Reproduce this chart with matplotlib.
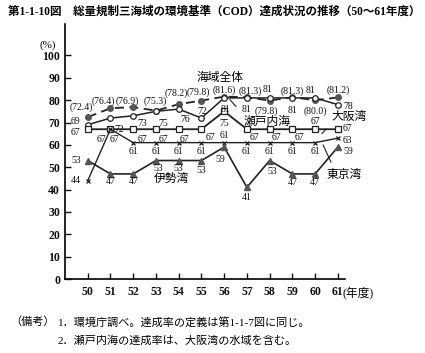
import matplotlib
matplotlib.use("Agg")
import matplotlib.pyplot as plt

plt.rcParams['font.family'] = ['Liberation Serif', 'Noto Sans CJK JP']

years = [50, 51, 52, 53, 54, 55, 56, 57, 58, 59, 60, 61]
zentai = [72.4, 76.4, 76.9, 75.3, 78.2, 79.8, 81.6, 81.3, 79.8, 81.3, 80.0, 81.2]
seto = [69, 72, 73, 75, 76, 72, 81, 81, 81, 81, 81, 78]
osaka = [67, 67, 67, 67, 67, 67, 75, 67, 67, 67, 67, 67]
tokyo = [44, 67, 61, 61, 61, 61, 61, 61, 61, 61, 61, 63]
ise = [53, 47, 47, 53, 53, 53, 59, 41, 53, 47, 47, 59]

# label offsets (pixels, y up) for each point
off_zentai = [(-6, 10), (-7, 7), (-6, 6), (-1, 9), (-2, 11), (-3, 8),
              (0, 6), (3, 6), (-3, -11), (0, 6), (0, -11), (0, 7)]
off_seto = [(-12, 3), (9, -11), (9, -8), (7, -12), (6, -10), (1, 7),
            (1, -12), (0, -12), (-2, 8), (0, -13), (-5, 7), (10, -2)]
off_osaka = [(-12, -3), (-9, -10), (9, -10), (7, -10), (6, -10), (9, -8),
             (0, -12), (8, -8), (7, -8), (7, -8), (0, 8), (10, 1)]
off_tokyo = [(-12, 0), (4, -10), (0, -9), (0, -9), (0, -9), (0, -9),
             (0, 7), (0, -9), (0, -9), (0, -9), (0, -9), (10, -2)]
off_ise = [(-12, 0), (0, -8), (0, -8), (2, -8), (0, -8), (0, -10),
           (-4, -12), (0, -10), (3, -11), (0, -9), (0, -9), (10, -4)]

fig = plt.figure(figsize=(4.25, 3.53), dpi=100)
ax = fig.add_axes([0.153, 0.2096, 0.659, 0.722])

c = '#222222'
ax.plot(years, zentai, '--', color=c, lw=1.3, dashes=(5, 3), marker='o', ms=4,
        mfc='#555555', mec='#555555')
ax.plot(years, seto, '-', color=c, lw=1.1, marker='o', ms=4, mfc='white', mec=c, mew=0.9)
ax.plot(years, osaka, '-', color=c, lw=1.3, marker='s', ms=4, mfc='white', mec=c, mew=0.9)
ax.plot(years, tokyo, '-', color=c, lw=1.0, marker='x', ms=3.5, mec=c, mew=0.9)
ax.plot(years, ise, '-', color=c, lw=1.2, marker='^', ms=4, mfc='#555555', mec='#555555')

def put_labels(vals, offs, fmt):
    for x, v, (dx, dy) in zip(years, vals, offs):
        ax.annotate(fmt(v), (x, v), xytext=(dx, dy), textcoords='offset pixels',
                    ha='center', va='center', fontsize=7, color='#111111')

put_labels(zentai, off_zentai, lambda v: '(%.1f)' % v)
put_labels(seto, off_seto, lambda v: '%d' % v)
put_labels(osaka, off_osaka, lambda v: '%d' % v)
put_labels(tokyo, off_tokyo, lambda v: '%d' % v)
put_labels(ise, off_ise, lambda v: '%d' % v)

# series names
ax.text(55.8, 89.7, '海域全体', ha='center', va='center', fontsize=8.5)
ax.text(53.7, 44.8, '伊勢湾', ha='center', va='center', fontsize=8.5)
ax.annotate('瀬戸内海', xy=(56.25, 80.3), xytext=(57.9, 70.4), ha='center', va='center',
            fontsize=8.5, arrowprops=dict(arrowstyle='-', color=c, lw=0.8,
                                          shrinkA=6, shrinkB=0, relpos=(0, 1)))
ax.annotate('大阪湾', xy=(60.3, 65), xytext=(61.5, 72.5), ha='center', va='center',
            fontsize=8.5, arrowprops=dict(arrowstyle='-', color=c, lw=0.8,
                                          shrinkA=3, shrinkB=0, relpos=(0, 0)))
ax.annotate('東京湾', xy=(60.35, 60), xytext=(61.3, 46.6), ha='center', va='center',
            fontsize=8.5, arrowprops=dict(arrowstyle='-', color=c, lw=0.8,
                                          shrinkA=3, shrinkB=0, relpos=(0.2, 1)))

ax.set_xlim(49.0, 61.32)
ax.set_ylim(0, 114)
ax.set_yticks(range(0, 101, 10))
ax.set_xticks(years)
ax.set_xticklabels([str(y) for y in years])
ax.tick_params(direction='in', length=4, width=1, labelsize=8.5, colors='#111111')
ax.tick_params(axis='x', pad=5)
for lab in ax.get_xticklabels() + ax.get_yticklabels():
    lab.set_fontweight('bold')
ax.spines['top'].set_visible(False)
ax.spines['right'].set_visible(False)
ax.spines['left'].set_linewidth(1.2)
ax.spines['bottom'].set_linewidth(1.2)
ax.set_facecolor('none')

ax.text(61.22, -3.5, '(年度)', transform=ax.transData, ha='left', va='top', fontsize=8.5)
fig.text(48 / 425, 1 - 45 / 353, '(%)', ha='center', va='center', fontsize=8)

fig.text(8 / 425, 1 - 12 / 353,
         '第1-1-10図　総量規制三海域の環境基準（COD）達成状況の推移（50〜61年度）',
         ha='left', va='center', fontsize=8.3, fontweight='bold')
fig.text(10 / 425, 1 - 322 / 353, '（備考）', ha='left', va='center', fontsize=8)
fig.text(58 / 425, 1 - 322 / 353, '1．環境庁調べ。達成率の定義は第1-1-7図に同じ。',
         ha='left', va='center', fontsize=8)
fig.text(58 / 425, 1 - 341 / 353, '2．瀬戸内海の達成率は、大阪湾の水域を含む。',
         ha='left', va='center', fontsize=8)

fig.savefig('out.png', dpi=100)
